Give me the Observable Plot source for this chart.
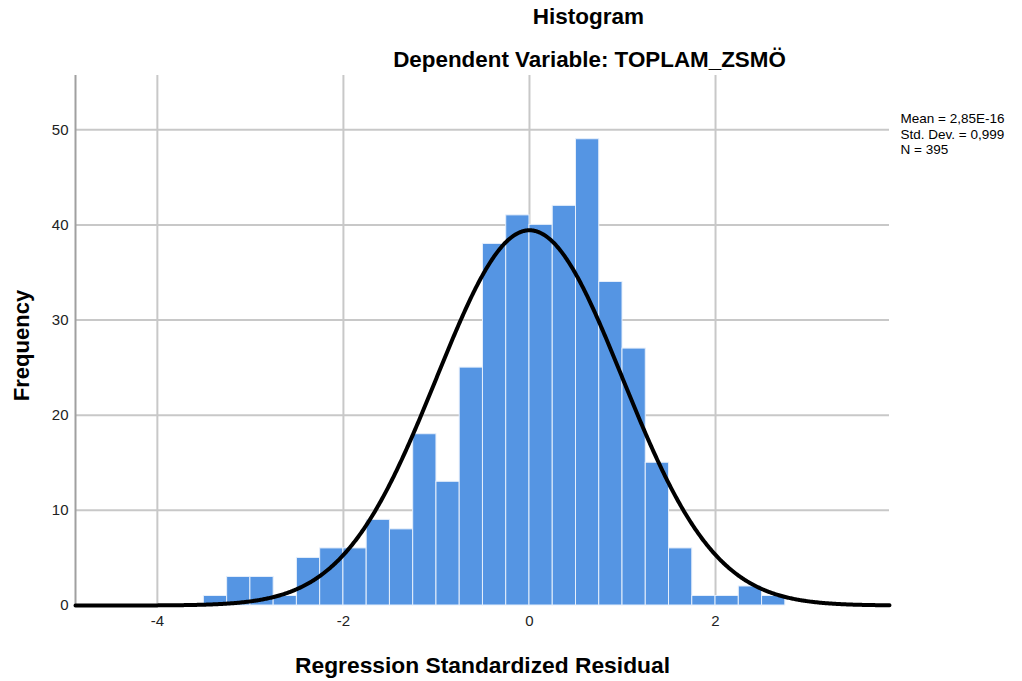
<!DOCTYPE html>
<html><head><meta charset="utf-8">
<script src="https://cdn.jsdelivr.net/npm/d3@7"></script>
<script src="https://cdn.jsdelivr.net/npm/@observablehq/plot@0.6"></script>
<style>html,body{margin:0;padding:0;background:#fff}</style>
</head><body><div id="chart"></div>
<script>
// ---- data ----
const binStarts = [-3.5,-3.25,-3.0,-2.75,-2.5,-2.25,-2.0,-1.75,-1.5,-1.25,-1.0,-0.75,-0.5,-0.25,0,0.25,0.5,0.75,1.0,1.25,1.5,1.75,2.0,2.25,2.5];
const counts    = [1,3,3,1,5,6,6,9,8,18,13,25,38,41,40,42,49,34,27,15,6,1,1,2,1];
const binWidth = 0.25;
const xTicks = [-4,-2,0,2];
const yTicks = [0,10,20,30,40,50];
const meanValue = 2.85e-16;
const sdValue = 0.999;
const nValue = 395;
const statLabels = ["Mean = 2,85E-16", "Std. Dev. = 0,999", "N = 395"];
const titleText = "Histogram";
const subtitleText = "Dependent Variable: TOPLAM_ZSMÖ";
const xLabel = "Regression Standardized Residual";
const yLabel = "Frequency";

const xDomain = [-4.88, 3.87];
const yDomain = [0, 55.7];

const bars = binStarts.map((s, i) => ({x1: s, x2: s + binWidth, count: counts[i]}));

// fitted normal curve (scaled to counts per bin)
const pdf = x => Math.exp(-0.5 * ((x - meanValue) / sdValue) ** 2) / (sdValue * Math.sqrt(2 * Math.PI));
const curve = d3.range(xDomain[0], xDomain[1] + 0.005, 0.01).map(x => ({x, y: nValue * binWidth * pdf(x)}));

const FONT = "'Liberation Sans', Arial, sans-serif";
const ml = 75, mt = 75, mr = 133, mb = 76;

const chart = Plot.plot({
  width: 1022,
  height: 681,
  marginLeft: ml, marginTop: mt, marginRight: mr, marginBottom: mb,
  style: {fontFamily: FONT, background: "#fff", overflow: "visible"},
  x: {domain: xDomain},
  y: {domain: yDomain},
  marks: [
    Plot.gridX(xTicks, {stroke: "#c8c8c8", strokeOpacity: 1, strokeWidth: 2}),
    Plot.gridY(yTicks.filter(d => d > 0), {stroke: "#c8c8c8", strokeOpacity: 1, strokeWidth: 2}),
    Plot.rectY(bars, {x1: "x1", x2: "x2", y: "count", fill: "#5595e3", stroke: "#e6effb", strokeWidth: 1, inset: 0}),
    Plot.ruleX([xDomain[0]], {stroke: "#a0a0a0", strokeWidth: 2}),
    Plot.line(curve, {x: "x", y: "y", stroke: "#000", strokeWidth: 4}),
    Plot.axisX(xTicks, {tickSize: 0, tickPadding: 10, fontSize: 15, fill: "#222", label: null, tickFormat: d => String(d)}),
    Plot.axisY(yTicks, {tickSize: 0, tickPadding: 7, fontSize: 15, fill: "#222", label: null, tickFormat: d => String(d)}),
    Plot.text([titleText], {frameAnchor: "top-left", dx: 513, dy: -52, lineAnchor: "bottom", textAnchor: "middle", fontSize: 22.5, fontWeight: "bold", fill: "#000"}),
    Plot.text([subtitleText], {frameAnchor: "top-left", dx: 514, dy: -9, lineAnchor: "bottom", textAnchor: "middle", fontSize: 22.4, fontWeight: "bold", fill: "#000"}),
    Plot.text([xLabel], {frameAnchor: "bottom", dy: 67, lineAnchor: "bottom", textAnchor: "middle", fontSize: 22.8, fontWeight: "bold", fill: "#000"}),
    Plot.text([yLabel], {frameAnchor: "left", dx: -54, dy: 5, rotate: -90, lineAnchor: "middle", textAnchor: "middle", fontSize: 22, fontWeight: "bold", fill: "#000"}),
    Plot.text([statLabels.join("\n")], {frameAnchor: "top-right", dx: 11, dy: 37, lineAnchor: "top", textAnchor: "start", fontSize: 13.5, lineHeight: 1.13, fill: "#000"})
  ]
});
document.getElementById("chart").appendChild(chart);
</script>
</body></html>
